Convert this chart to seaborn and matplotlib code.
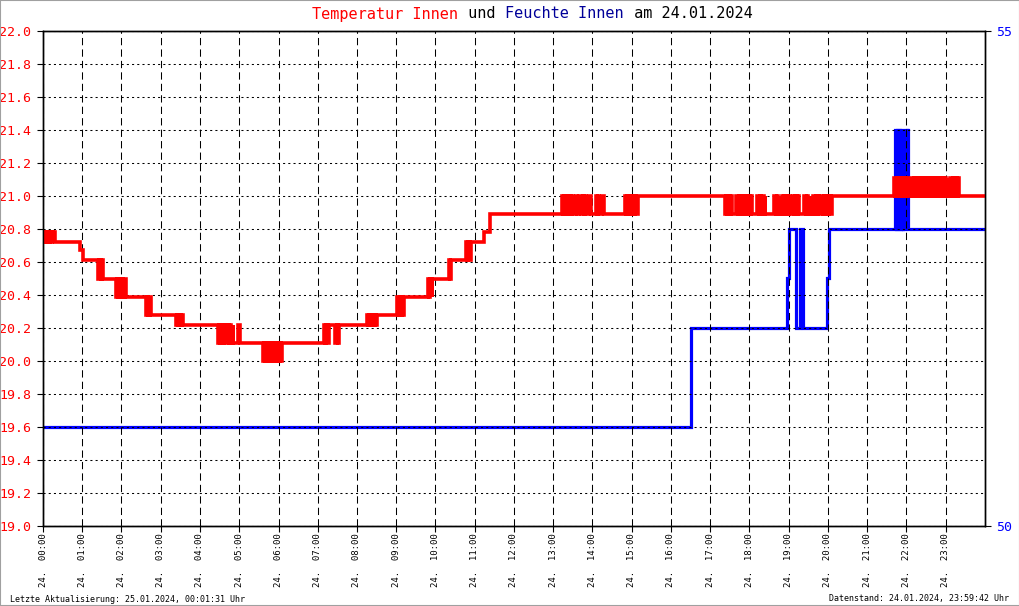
import matplotlib
matplotlib.use("Agg")
import matplotlib.pyplot as plt
import seaborn as sns
import pandas as pd
from matplotlib.patches import Rectangle

# Temperatur Innen: Messzeitpunkte (Minuten ab 00:00) und Werte in Grad
temp_min = [
    0, 2, 3, 5, 6, 8, 10, 12, 13, 15, 16, 18,
    57, 61,
    84, 86, 88, 90, 91,
    111, 113, 115, 117, 119, 121, 123, 125, 127,
    157, 159, 161, 163, 165,
    203, 205, 207, 209, 211, 213, 214,
    267, 269, 271, 273, 275, 277, 279, 282, 284, 286, 288, 290, 291,
    298, 301,
    336, 338, 340, 342, 344, 346, 348, 350, 352, 354, 356, 358, 360, 362, 364, 366,
    429, 431, 433, 435, 437, 447, 449, 451, 453,
    495, 497, 499, 501, 503, 505, 507, 509, 511,
    541, 543, 545, 547, 549, 551, 552,
    588, 590, 592, 594, 595,
    620, 622, 624,
    646, 648, 650, 652, 654,
    674, 683,
    793, 795, 797, 799, 801, 803, 805, 807, 809, 810,
    815, 817, 820, 822, 825, 827, 829, 830, 835, 837, 845, 847, 849, 850, 854, 857,
    889, 891, 893, 895, 897, 899, 901, 903, 905, 907, 909,
    1042, 1044, 1046, 1048, 1050, 1052, 1054,
    1060, 1062, 1064, 1065,
    1067, 1069, 1071, 1073, 1075, 1077, 1079, 1081, 1083, 1084,
    1092, 1094, 1096, 1098, 1100, 1102, 1103, 1104,
    1118, 1120, 1122, 1124, 1126, 1127,
    1129, 1131, 1133, 1135, 1137, 1139, 1141, 1142,
    1146, 1148, 1150, 1152, 1154, 1155,
    1164, 1166, 1168, 1170, 1172, 1173,
    1177, 1179, 1181, 1183, 1185, 1187,
    1190, 1192, 1194, 1196, 1198, 1200, 1202, 1204, 1206,
    1301, 1303, 1305, 1307, 1309, 1311, 1313, 1315, 1317, 1319, 1321, 1323,
    1327, 1329, 1331, 1333, 1335, 1337, 1339, 1341, 1343, 1345, 1347, 1349,
    1351, 1353, 1355, 1357, 1359, 1361, 1363, 1365, 1367, 1369, 1371, 1373,
    1375, 1377, 1379, 1381, 1383, 1384,
    1387, 1389, 1391, 1392,
    1395, 1397, 1399, 1400,
    1440,
]
temp_val = [
    20.78, 20.72, 20.78, 20.72, 20.78, 20.72, 20.78, 20.72, 20.78, 20.72, 20.78, 20.72,
    20.67, 20.61,
    20.50, 20.61, 20.50, 20.61, 20.50,
    20.39, 20.50, 20.39, 20.50, 20.39, 20.50, 20.39, 20.50, 20.39,
    20.28, 20.39, 20.28, 20.39, 20.28,
    20.22, 20.28, 20.22, 20.28, 20.22, 20.28, 20.22,
    20.11, 20.22, 20.11, 20.22, 20.11, 20.22, 20.11, 20.22, 20.11, 20.22, 20.11, 20.22, 20.11,
    20.22, 20.11,
    20.00, 20.11, 20.00, 20.11, 20.00, 20.11, 20.00, 20.11, 20.00, 20.11, 20.00, 20.11, 20.00, 20.11, 20.00, 20.11,
    20.22, 20.11, 20.22, 20.11, 20.22, 20.11, 20.22, 20.11, 20.22,
    20.28, 20.22, 20.28, 20.22, 20.28, 20.22, 20.28, 20.22, 20.28,
    20.39, 20.28, 20.39, 20.28, 20.39, 20.28, 20.39,
    20.50, 20.39, 20.50, 20.39, 20.50,
    20.61, 20.50, 20.61,
    20.72, 20.61, 20.72, 20.61, 20.72,
    20.78, 20.89,
    21.00, 20.89, 21.00, 20.89, 21.00, 20.89, 21.00, 20.89, 21.00, 20.89,
    21.00, 20.89, 21.00, 20.89, 21.00, 20.89, 21.00, 20.89, 21.00, 20.89, 21.00, 20.89, 21.00, 20.89, 21.00, 20.89,
    21.00, 20.89, 21.00, 20.89, 21.00, 20.89, 21.00, 20.89, 21.00, 20.89, 21.00,
    20.89, 21.00, 20.89, 21.00, 20.89, 21.00, 20.89,
    21.00, 20.89, 21.00, 20.89,
    21.00, 20.89, 21.00, 20.89, 21.00, 20.89, 21.00, 20.89, 21.00, 20.89,
    21.00, 20.89, 21.00, 20.89, 21.00, 20.89, 21.00, 20.89,
    21.00, 20.89, 21.00, 20.89, 21.00, 20.89,
    21.00, 20.89, 21.00, 20.89, 21.00, 20.89, 21.00, 20.89,
    21.00, 20.89, 21.00, 20.89, 21.00, 20.89,
    21.00, 20.89, 21.00, 20.89, 21.00, 20.89,
    21.00, 20.89, 21.00, 20.89, 21.00, 20.89,
    21.00, 20.89, 21.00, 20.89, 21.00, 20.89, 21.00, 20.89, 21.00,
    21.11, 21.00, 21.11, 21.00, 21.11, 21.00, 21.11, 21.00, 21.11, 21.00, 21.11, 21.00,
    21.11, 21.00, 21.11, 21.00, 21.11, 21.00, 21.11, 21.00, 21.11, 21.00, 21.11, 21.00,
    21.11, 21.00, 21.11, 21.00, 21.11, 21.00, 21.11, 21.00, 21.11, 21.00, 21.11, 21.00,
    21.11, 21.00, 21.11, 21.00, 21.11, 21.00,
    21.11, 21.00, 21.11, 21.00,
    21.11, 21.00, 21.11, 21.00,
    21.00,
]

# Feuchte Innen: Zeitpunkte (Minuten) und Werte in %
hum_min = [0, 990, 1138, 1141, 1151, 1157, 1162, 1198, 1201,
           1302, 1304, 1305, 1307, 1308, 1310, 1311, 1313, 1314, 1315,
           1318, 1320, 1321, 1322, 1440]
hum_val = [51, 52, 52.5, 53, 52, 53, 52, 52.5, 53,
           54, 53, 54, 53, 54, 53, 54, 53, 54, 53,
           54, 53, 54, 53, 53]

temp_ticks = [19.0 + 0.2 * i for i in range(16)]
hour_ticks = list(range(0, 1440, 60))
hour_labels = [f"24.  {h:02d}:00" for h in range(24)]

temp_df = pd.DataFrame({"minute": temp_min, "temp": temp_val})
hum_df = pd.DataFrame({"minute": hum_min, "hum": hum_val})

sns.set_theme(style="white")
plt.rcParams["font.family"] = ["DejaVu Sans Mono"]

fig = plt.figure(figsize=(10.2, 6.06), dpi=100)
ax = fig.add_axes([43 / 1020, 1 - 526 / 606, 942 / 1020, 495 / 606])
ax2 = ax.twinx()

sns.lineplot(data=hum_df, x="minute", y="hum", ax=ax2, color="#0000ff",
             linewidth=2.3, drawstyle="steps-post", estimator=None, sort=False,
             solid_joinstyle="miter")
sns.lineplot(data=temp_df, x="minute", y="temp", ax=ax, color="#ff0000",
             linewidth=2.6, drawstyle="steps-post", estimator=None, sort=False,
             solid_joinstyle="miter")

ax.set_zorder(ax2.get_zorder() + 1)
ax.patch.set_visible(False)

ax.set_xlim(0, 1440)
ax.set_ylim(19.0, 22.0)
ax2.set_ylim(50, 55)

ax.set_yticks(temp_ticks)
ax.set_yticklabels([f"{t:.1f}" for t in temp_ticks], color="#ff0000", fontsize=9.5)
ax.set_xticks(hour_ticks)
ax.set_xticklabels(hour_labels, rotation=90, fontsize=6.5, color="black")
ax2.set_yticks([50, 55])
ax2.set_yticklabels(["50", "55"], color="#0000ff", fontsize=9.5)

ax.tick_params(axis="y", left=True, length=4, width=0.8, pad=4.5, color="black")
ax.tick_params(axis="x", bottom=True, length=4, width=0.8, pad=1, color="black")
ax2.tick_params(axis="y", right=True, length=4.5, width=0.8, pad=3.5, color="black")

ax.set_xlabel("")
ax.set_ylabel("")
ax2.set_ylabel("")

# Gitter: gestrichelt vertikal, gepunktet horizontal
ax.xaxis.grid(True, color="black", linestyle=(0, (7, 4)), linewidth=0.75)
ax.yaxis.grid(True, color="black", linestyle=(0, (2, 3)), linewidth=0.75)
ax2.grid(False)
ax.set_axisbelow(True)

for a in (ax, ax2):
    for sp in a.spines.values():
        sp.set_color("black")
        sp.set_linewidth(1.0)
        sp.set_visible(True)

# Titel in mehreren Farben (Monospace, Zeichenbreite 0.602 em)
title_parts = [("Temperatur Innen", "#ff0000"), (" und ", "black"),
               ("Feuchte Innen", "#000099"), (" am 24.01.2024", "black")]
title_size = 11
adv = 0.602 * title_size * 100 / 72
x_px = 312
for txt, col in title_parts:
    fig.text(x_px / 1020, 1 - 14 / 606, txt, color=col, fontsize=title_size,
             ha="left", va="center")
    x_px += len(txt) * adv

fig.text(10 / 1020, 1 - 599 / 606, "Letzte Aktualisierung: 25.01.2024, 00:01:31 Uhr",
         fontsize=6, ha="left", va="center", color="black")
fig.text(1009 / 1020, 1 - 599 / 606, "Datenstand: 24.01.2024, 23:59:42 Uhr",
         fontsize=6, ha="right", va="center", color="black")

fig.patches.append(Rectangle((0, 0), 1, 1, transform=fig.transFigure, fill=False,
                             edgecolor="#a0a0a0", linewidth=1.5))

fig.savefig("out.png", dpi=100, facecolor="white")
